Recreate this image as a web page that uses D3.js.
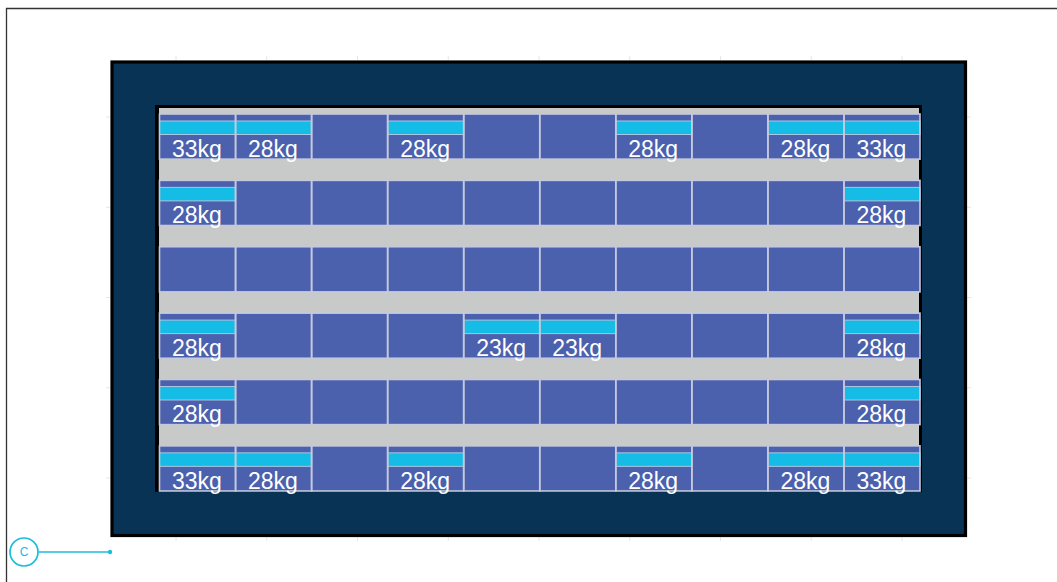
<!DOCTYPE html>
<html lang="en">

<head>
    <meta charset="UTF-8">
    <title>Load layout</title>
    <style>
        html, body { margin: 0; padding: 0; background: #fff; overflow: hidden; }
        text { font-family: "Liberation Sans", Arial, sans-serif; }
    </style>
</head>

<body>
    <div class="canvas"></div>
    <script src="https://cdnjs.cloudflare.com/ajax/libs/d3/7.8.2/d3.min.js"></script>
    <script>
        const columns = [1, 2, 3, 4, 5, 6, 7, 8, 9, 10];
        const rows = ["A", "B", "C", "D", "E", "F"];

        // weight per cell, one list per row, 0 = no load on that cell
        const rowA = [33, 28, 0, 28, 0, 0, 28, 0, 28, 33];
        const rowB = [28, 0, 0, 0, 0, 0, 0, 0, 0, 28];
        const rowC = [0, 0, 0, 0, 0, 0, 0, 0, 0, 0];
        const rowD = [28, 0, 0, 0, 23, 23, 0, 0, 0, 28];
        const rowE = [28, 0, 0, 0, 0, 0, 0, 0, 0, 28];
        const rowF = [33, 28, 0, 28, 0, 0, 28, 0, 28, 33];
        const rowValues = [rowA, rowB, rowC, rowD, rowE, rowF];

        // faint ruler ticks round the panel
        const rulerX = [1, 2, 3, 4, 5, 6, 7, 8, 9];
        const rulerY = [1, 2, 3, 4, 5];

        const calloutLabel = "C";

        const width = 1057;
        const height = 582;
        const cyan = "#1cbcdc";

        const svg = d3.select(".canvas").append("svg")
            .attr("width", width)
            .attr("height", height)
            .style("display", "block");

        const x = d3.scaleBand().domain(columns).range([159.5, 920]);
        const y = d3.scaleBand().domain(rows).range([114, 491]).paddingInner(0.32);
        const tickX = d3.scalePoint().domain(rulerX).range([176, 902]);
        const tickY = d3.scalePoint().domain(rulerY).range([117, 478]);

        // page frame, only top and left edges are visible
        svg.append("path")
            .attr("d", "M6.5,582V8.5H1057")
            .attr("fill", "none")
            .attr("stroke", "#333")
            .attr("stroke-width", 1.3);

        // ruler ticks
        const ruler = svg.append("g")
            .attr("stroke", "#e6e6e6")
            .attr("stroke-width", 1);
        ruler.selectAll(".top")
            .data(rulerX)
            .enter().append("line")
            .attr("x1", d => tickX(d)).attr("x2", d => tickX(d))
            .attr("y1", 56).attr("y2", 60);
        ruler.selectAll(".bottom")
            .data(rulerX)
            .enter().append("line")
            .attr("x1", d => tickX(d)).attr("x2", d => tickX(d))
            .attr("y1", 537).attr("y2", 541);
        ruler.selectAll(".left")
            .data(rulerY)
            .enter().append("line")
            .attr("x1", 106).attr("x2", 110)
            .attr("y1", d => tickY(d)).attr("y2", d => tickY(d));
        ruler.selectAll(".right")
            .data(rulerY)
            .enter().append("line")
            .attr("x1", 967).attr("x2", 971)
            .attr("y1", d => tickY(d)).attr("y2", d => tickY(d));

        // outer panel
        svg.append("rect")
            .attr("x", 112).attr("y", 62)
            .attr("width", 853.5).attr("height", 473.5)
            .attr("fill", "#083354")
            .attr("stroke", "#000")
            .attr("stroke-width", 3.2);

        // inner well
        svg.append("rect")
            .attr("x", 155).attr("y", 105)
            .attr("width", 767).attr("height", 387)
            .attr("fill", "#000");
        svg.append("rect")
            .attr("x", 159).attr("y", 108)
            .attr("width", 760).attr("height", 382)
            .attr("fill", "#c8c9c9");

        const cells = rows.flatMap((r, i) => columns.map((c, j) => ({ row: r, col: c, kg: rowValues[i][j] })));
        const loaded = cells.filter(d => d.kg > 0);

        svg.append("g").selectAll("rect")
            .data(cells)
            .enter().append("rect")
            .attr("x", d => x(d.col))
            .attr("y", d => y(d.row))
            .attr("width", x.bandwidth())
            .attr("height", y.bandwidth())
            .attr("fill", "#4b61ad");

        svg.append("g").selectAll("rect")
            .data(loaded)
            .enter().append("rect")
            .attr("x", d => x(d.col))
            .attr("y", d => y(d.row) + 7)
            .attr("width", x.bandwidth())
            .attr("height", 13.5)
            .attr("fill", "#14bce6")
            .attr("stroke", "#a9c6e2")
            .attr("stroke-width", 1);

        // cell outlines go over the cyan bands
        svg.append("g").selectAll("rect")
            .data(cells)
            .enter().append("rect")
            .attr("x", d => x(d.col))
            .attr("y", d => y(d.row))
            .attr("width", x.bandwidth())
            .attr("height", y.bandwidth())
            .attr("fill", "none")
            .attr("stroke", "#c6c9dc")
            .attr("stroke-width", 1.6);

        svg.append("g").selectAll("text")
            .data(loaded)
            .enter().append("text")
            .attr("x", d => x(d.col) + x.bandwidth() / 2 - 0.6)
            .attr("y", d => y(d.row) + 43)
            .attr("text-anchor", "middle")
            .attr("font-size", 23)
            .attr("fill", "#fff")
            .text(d => d.kg + "kg");

        // callout
        const callout = svg.append("g");
        callout.append("line")
            .attr("x1", 38.5).attr("x2", 110)
            .attr("y1", 552).attr("y2", 552)
            .attr("stroke", cyan)
            .attr("stroke-width", 1.4);
        callout.append("circle")
            .attr("cx", 110).attr("cy", 552).attr("r", 2.2)
            .attr("fill", cyan);
        callout.append("circle")
            .attr("cx", 24).attr("cy", 552).attr("r", 14)
            .attr("fill", "#fff")
            .attr("stroke", cyan)
            .attr("stroke-width", 1.7);
        callout.append("text")
            .attr("x", 24).attr("y", 556)
            .attr("text-anchor", "middle")
            .attr("font-size", 12)
            .attr("fill", cyan)
            .text(calloutLabel);
    </script>
</body>

</html>
